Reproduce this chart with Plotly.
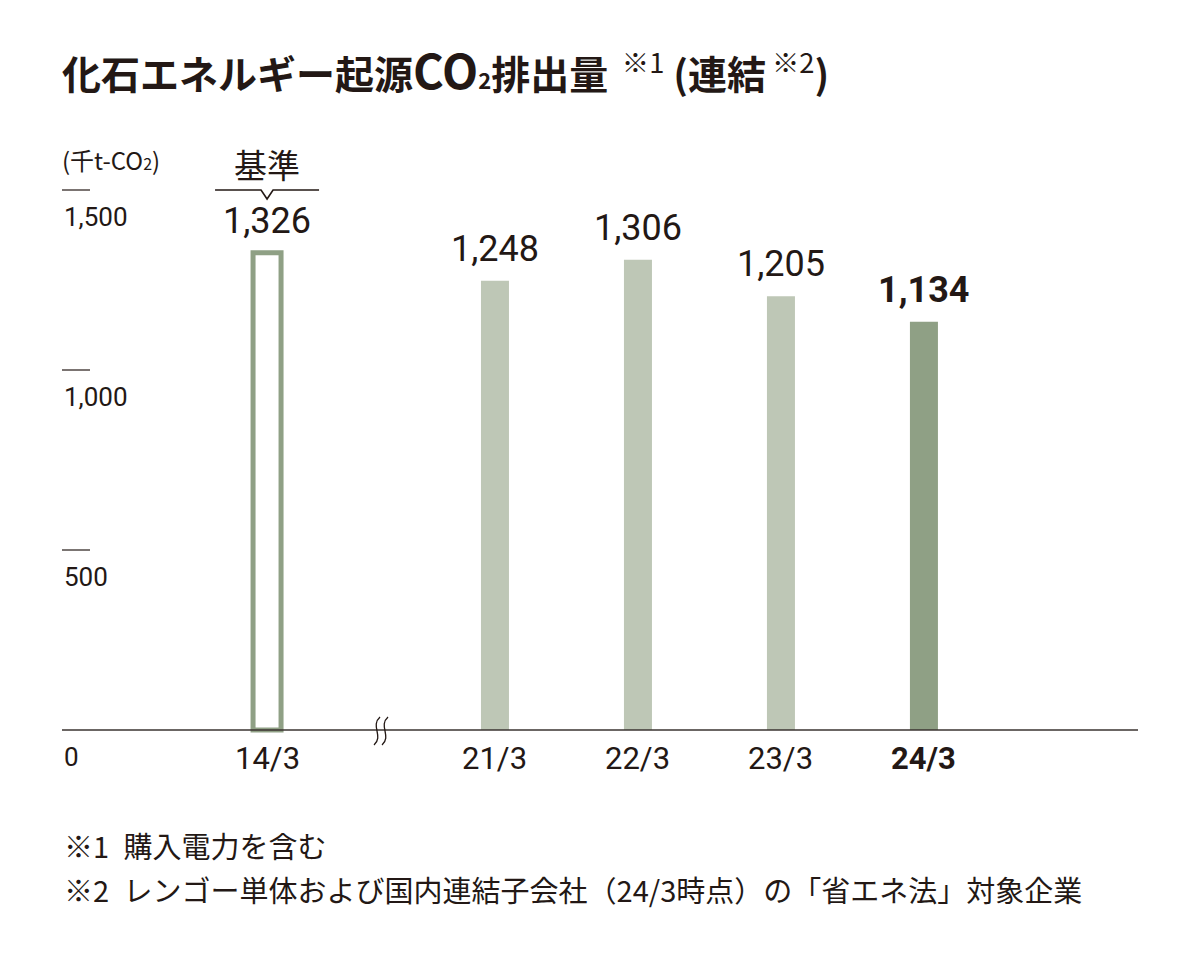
import plotly.graph_objects as go

# ---- data ----
categories = ["14/3", "21/3", "22/3", "23/3", "24/3"]
values = [1326, 1248, 1306, 1205, 1134]
value_labels = ["1,326", "1,248", "1,306", "1,205", "1,134"]
y_ticks = [0, 500, 1000, 1500]
y_tick_labels = ["0", "500", "1,000", "1,500"]

title_text = ("<b>化石エネルギー起源<span style=\"font-size:47px\">CO</span>"
              "<span style=\"font-size:22px\">2</span>排出量</b>"
              "<sup>\u2002※1</sup><b> (連結</b><sup> ※2</sup><b>)</b>")
unit_text = "(千t-CO<span style=\"font-size:16px\">2</span>)"
base_text = "基準"
notes = ["※1\u2002購入電力を含む",
         "※2\u2002レンゴー単体および国内連結子会社（24/3時点）の「省エネ法」対象企業"]

# ---- layout constants ----
x_slots = [0, 1.594, 2.594, 3.594, 4.594]
x_range = [-1.434, 6.091]
y_range = [-300, 1700]
W, H = 1200, 954
ML, MR, MT, MB = 62, 62, 118, 116
plot_w = W - ML - MR
plot_h = H - MT - MB
px_x = (x_range[1] - x_range[0]) / plot_w   # data units per pixel (x)
px_y = (y_range[1] - y_range[0]) / plot_h   # data units per pixel (y)

DARK = "#231815"
LIGHT_BAR = "#bec7b6"
MAIN_BAR = "#8fa085"
NUM_FONT = "Roboto"
JP_FONT = "Noto Sans CJK JP"

fig = go.Figure()

# outlined reference bar (14/3)
fig.add_trace(go.Bar(
    x=[x_slots[0]], y=[values[0]], width=28 * px_x,
    marker=dict(color="white", line=dict(color=MAIN_BAR, width=5)),
    hoverinfo="skip", showlegend=False))

# filled bars
bar_colors = [LIGHT_BAR] * (len(values) - 2) + [MAIN_BAR]
fig.add_trace(go.Bar(
    x=x_slots[1:], y=values[1:], width=28 * px_x,
    marker=dict(color=bar_colors, line=dict(width=0)),
    hoverinfo="skip", showlegend=False))

annotations = []
shapes = []

# value labels and category labels
last = len(categories) - 1
for i, (xs, v, lab, cat) in enumerate(zip(x_slots, values, value_labels, categories)):
    bold = (i == last)
    annotations.append(dict(
        x=xs, y=v, xref="x", yref="y", yanchor="bottom", yshift=9,
        text=f"<b>{lab}</b>" if bold else lab, showarrow=False,
        font=dict(family=NUM_FONT, size=36, color=DARK)))
    annotations.append(dict(
        x=xs, y=0, xref="x", yref="y", yanchor="middle", yshift=-28,
        text=f"<b>{cat}</b>" if bold else cat, showarrow=False,
        font=dict(family=NUM_FONT, size=31, color=DARK)))

# y tick labels and dashes
for t, lab in zip(y_ticks, y_tick_labels):
    annotations.append(dict(
        x=0, y=t, xref="paper", yref="y", xanchor="left", yanchor="middle",
        yshift=-27, text=lab, showarrow=False,
        font=dict(family=NUM_FONT, size=26, color=DARK)))
    if t > 0:
        shapes.append(dict(type="line", xref="paper", yref="y",
                           x0=0, x1=28 / plot_w, y0=t, y1=t,
                           line=dict(color=DARK, width=1.2)))

# baseline
shapes.append(dict(type="line", xref="paper", yref="y", x0=0, x1=1, y0=0, y1=0,
                   line=dict(color="#3a3330", width=1.6), layer="above"))

# axis break mark
bx = (x_slots[0] + x_slots[1]) / 2
for off in (-4, 4):
    cx = bx + off * px_x
    top, bot = 13 * px_y, -15 * px_y
    path = (f"M {cx + 3*px_x},{top} "
            f"C {cx - 7*px_x},{top - 9*px_y} {cx + 7*px_x},{bot + 9*px_y} {cx - 3*px_x},{bot}")
    shapes.append(dict(type="path", xref="x", yref="y", path=path,
                       line=dict(color=DARK, width=1.3), layer="above"))

# bracket over base year
by = 1500
x0 = x_slots[0]
bpath = (f"M {x0 - 52*px_x},{by} L {x0 - 6*px_x},{by} L {x0},{by - 9*px_y} "
         f"L {x0 + 6*px_x},{by} L {x0 + 52*px_x},{by}")
shapes.append(dict(type="path", xref="x", yref="y", path=bpath,
                   line=dict(color=DARK, width=1.6)))
annotations.append(dict(
    x=x0, y=by, xref="x", yref="y", yanchor="middle", yshift=26,
    text=base_text, showarrow=False,
    font=dict(family=JP_FONT, size=33, color=DARK)))

# unit label
annotations.append(dict(
    x=0, y=by, xref="paper", yref="y", xanchor="left", yanchor="middle",
    xshift=-2, yshift=31, text=unit_text, showarrow=False,
    font=dict(family=JP_FONT, size=24, color=DARK)))

# title
annotations.append(dict(
    x=0, y=1, xref="paper", yref="paper", xanchor="left", yanchor="middle",
    xshift=-2, yshift=50, text=title_text, showarrow=False,
    font=dict(family=JP_FONT, size=39, color=DARK)))

# footnotes
for k, note in enumerate(notes):
    annotations.append(dict(
        x=0, y=0, xref="paper", yref="paper", xanchor="left", yanchor="middle",
        yshift=-7 - 44 * k, text=note, showarrow=False,
        font=dict(family=JP_FONT, size=29, color=DARK)))

fig.update_layout(
    width=W, height=H,
    margin=dict(l=ML, r=MR, t=MT, b=MB, pad=0),
    paper_bgcolor="white", plot_bgcolor="white",
    xaxis=dict(range=x_range, visible=False, fixedrange=True),
    yaxis=dict(range=y_range, visible=False, fixedrange=True),
    barmode="overlay",
    annotations=annotations, shapes=shapes,
)

fig.write_html("out.html")
